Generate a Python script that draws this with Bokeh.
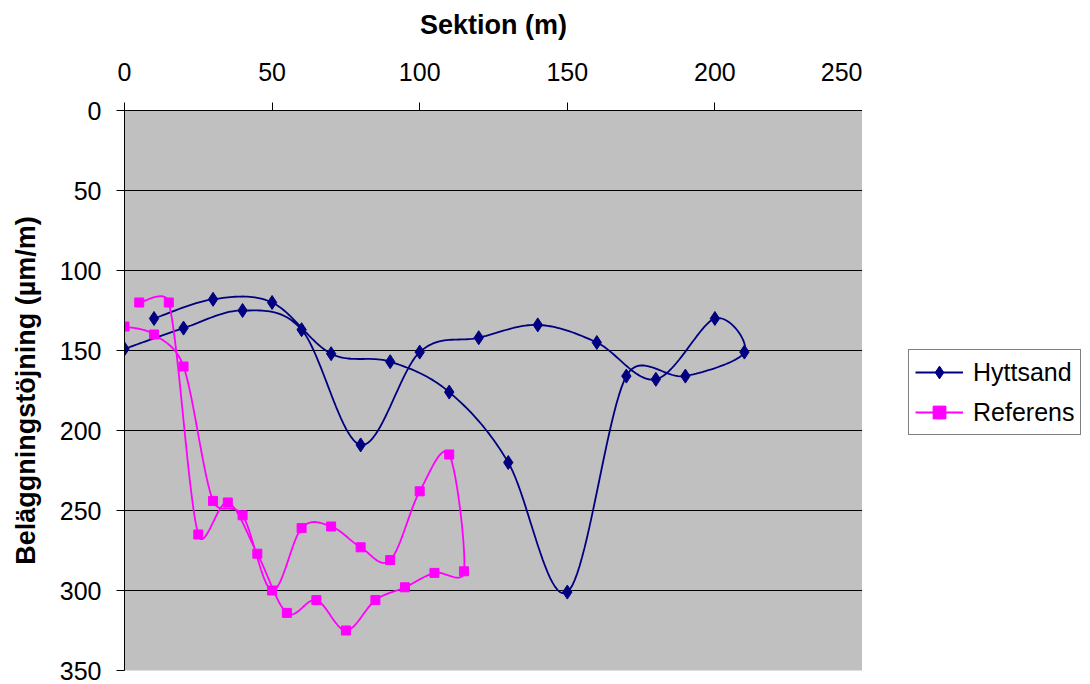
import numpy as np
from bokeh.plotting import figure
from bokeh.layouts import row
from bokeh.models import Range1d, LinearAxis, Legend, LegendItem, FixedTicker, Grid
from bokeh.embed import file_html
from bokeh.resources import INLINE

# ---- data (in measurement order) ----
hyttsand_x = [0, 20, 40, 60, 80, 100, 120, 140, 160, 180, 200, 210, 190, 170, 150, 130, 110, 90, 70, 50, 30, 10]
hyttsand_y = [149, 136, 125, 137, 209, 151, 142, 134, 145, 168, 130, 151, 166, 166, 301, 220, 176, 157, 152, 120, 118, 130]

referens_x = [0, 10, 20, 30, 40, 50, 60, 70, 80, 90, 100, 110, 115, 105, 95, 85, 75, 65, 55, 45, 35, 25, 15, 5]
referens_y = [135, 140, 160, 244, 253, 300, 261, 260, 273, 281, 238, 215, 288, 289, 298, 306, 325, 306, 314, 277, 245, 265, 120, 120]

x_ticks = [0, 50, 100, 150, 200, 250]
y_ticks = [0, 50, 100, 150, 200, 250, 300, 350]

series_names = ["Hyttsand", "Referens"]

# ---- layout ----
W, H = 1090, 684
LEFT, RIGHT, TOP, BOTTOM = 124, 228, 110, 14
XMAX, YMAX = 250, 350
FONT = "Liberation Sans"

fw = W - LEFT - RIGHT
fh = H - TOP - BOTTOM
sx = fw / XMAX
sy = fh / YMAX


def excel_smooth(xs, ys, n=24):
    """Excel-like smoothed line (Bezier, tension 1/6, clamped), computed in pixel space."""
    P = [np.array([x * sx, y * sy], dtype=float) for x, y in zip(xs, ys)]
    outx, outy = [], []
    m = len(P)
    for i in range(m - 1):
        p1, p2 = P[i], P[i + 1]
        p0 = P[i - 1] if i > 0 else p1
        p3 = P[i + 2] if i + 2 < m else p2
        d12 = np.linalg.norm(p2 - p1)
        d02 = np.linalg.norm(p2 - p0)
        d13 = np.linalg.norm(p3 - p1)
        if d02 / 6 < d12 / 2 or d02 == 0:
            c1 = p1 + (p2 - p0) / 6
        else:
            c1 = p1 + (p2 - p0) * (d12 / 2 / d02)
        if d13 / 6 < d12 / 2 or d13 == 0:
            c2 = p2 - (p3 - p1) / 6
        else:
            c2 = p2 - (p3 - p1) * (d12 / 2 / d13)
        ts = np.linspace(0, 1, n, endpoint=(i == m - 2))
        for t in ts:
            b = ((1 - t) ** 3) * p1 + 3 * ((1 - t) ** 2) * t * c1 + 3 * (1 - t) * t * t * c2 + t ** 3 * p2
            outx.append(b[0] / sx)
            outy.append(b[1] / sy)
    return outx, outy


p = figure(width=W - RIGHT, height=H, output_backend="svg", toolbar_location=None,
           x_range=Range1d(0, XMAX), y_range=Range1d(YMAX, 0),
           x_axis_location=None, y_axis_location=None,
           min_border_left=LEFT, min_border_right=0,
           min_border_top=TOP, min_border_bottom=BOTTOM,
           background_fill_color="#C0C0C0", border_fill_color="white",
           outline_line_color=None)

# axes
xa = LinearAxis(ticker=FixedTicker(ticks=x_ticks), axis_label="Sektion (m)")
ya = LinearAxis(ticker=FixedTicker(ticks=y_ticks), axis_label="Beläggningstöjning (µm/m)")
for ax in (xa, ya):
    ax.axis_line_color = "black"
    ax.axis_line_width = 1
    ax.major_tick_line_color = "black"
    ax.major_tick_out = 8
    ax.major_tick_in = 0
    ax.minor_tick_line_color = None
    ax.major_label_text_font = FONT
    ax.major_label_text_font_size = "25px"
    ax.major_label_text_color = "black"
    ax.axis_label_text_font = FONT
    ax.axis_label_text_font_size = "27px"
    ax.axis_label_text_font_style = "bold"
    ax.axis_label_text_color = "black"
xa.major_label_standoff = 22
xa.axis_label_standoff = 20
ya.major_label_standoff = 15
ya.axis_label_standoff = 16
p.add_layout(xa, "above")
p.add_layout(ya, "left")

p.xgrid.grid_line_color = None
p.ygrid.grid_line_color = None
hg = Grid(dimension=1, ticker=FixedTicker(ticks=y_ticks), grid_line_color="black", grid_line_width=1)
p.add_layout(hg)

# series
hx, hy = excel_smooth(hyttsand_x, hyttsand_y)
rx, ry = excel_smooth(referens_x, referens_y)

navy = "#000080"
mag = "#FF00FF"
line_style = dict(line_width=1.8)
h_marker = dict(marker="diamond", size=14, fill_color=navy, line_color=navy)
r_marker = dict(marker="square", size=9, fill_color=mag, line_color=mag)

p.line(hx, hy, line_color=navy, **line_style)
p.scatter(hyttsand_x, hyttsand_y, **h_marker)
p.line(rx, ry, line_color=mag, **line_style)
p.scatter(referens_x, referens_y, **r_marker)

# ---- legend panel (separate figure to the right) ----
lg = figure(width=RIGHT, height=H, output_backend="svg", toolbar_location=None,
            x_range=Range1d(0, 1), y_range=Range1d(0, 1),
            x_axis_location=None, y_axis_location=None,
            min_border=0, min_border_left=0, min_border_right=0,
            min_border_top=0, min_border_bottom=0,
            background_fill_color="white", border_fill_color="white",
            outline_line_color=None)
lg.xgrid.grid_line_color = None
lg.ygrid.grid_line_color = None
# legend-only renderers (hidden; they only supply the legend's glyph styles)
el1 = lg.line(hyttsand_x, hyttsand_y, line_color=navy, visible=False, **line_style)
em1 = lg.scatter(hyttsand_x, hyttsand_y, visible=False, **h_marker)
el2 = lg.line(referens_x, referens_y, line_color=mag, visible=False, **line_style)
em2 = lg.scatter(referens_x, referens_y, visible=False, **r_marker)

legend = Legend(items=[LegendItem(label=series_names[0], renderers=[el1, em1]),
                       LegendItem(label=series_names[1], renderers=[el2, em2])],
                location=(908 - (W - RIGHT), 235))
legend.label_text_font = FONT
legend.label_text_font_size = "25px"
legend.label_text_color = "black"
legend.glyph_width = 48
legend.glyph_height = 32
legend.label_height = 32
legend.label_standoff = 10
legend.spacing = 8
legend.padding = 6
legend.margin = 0
legend.border_line_color = "black"
legend.border_line_width = 1
legend.background_fill_color = "white"
legend.background_fill_alpha = 1
legend.inactive_fill_alpha = 0
lg.add_layout(legend, "center")

layout = row(p, lg, spacing=0)
open("out.html", "w").write(file_html(layout, INLINE))
